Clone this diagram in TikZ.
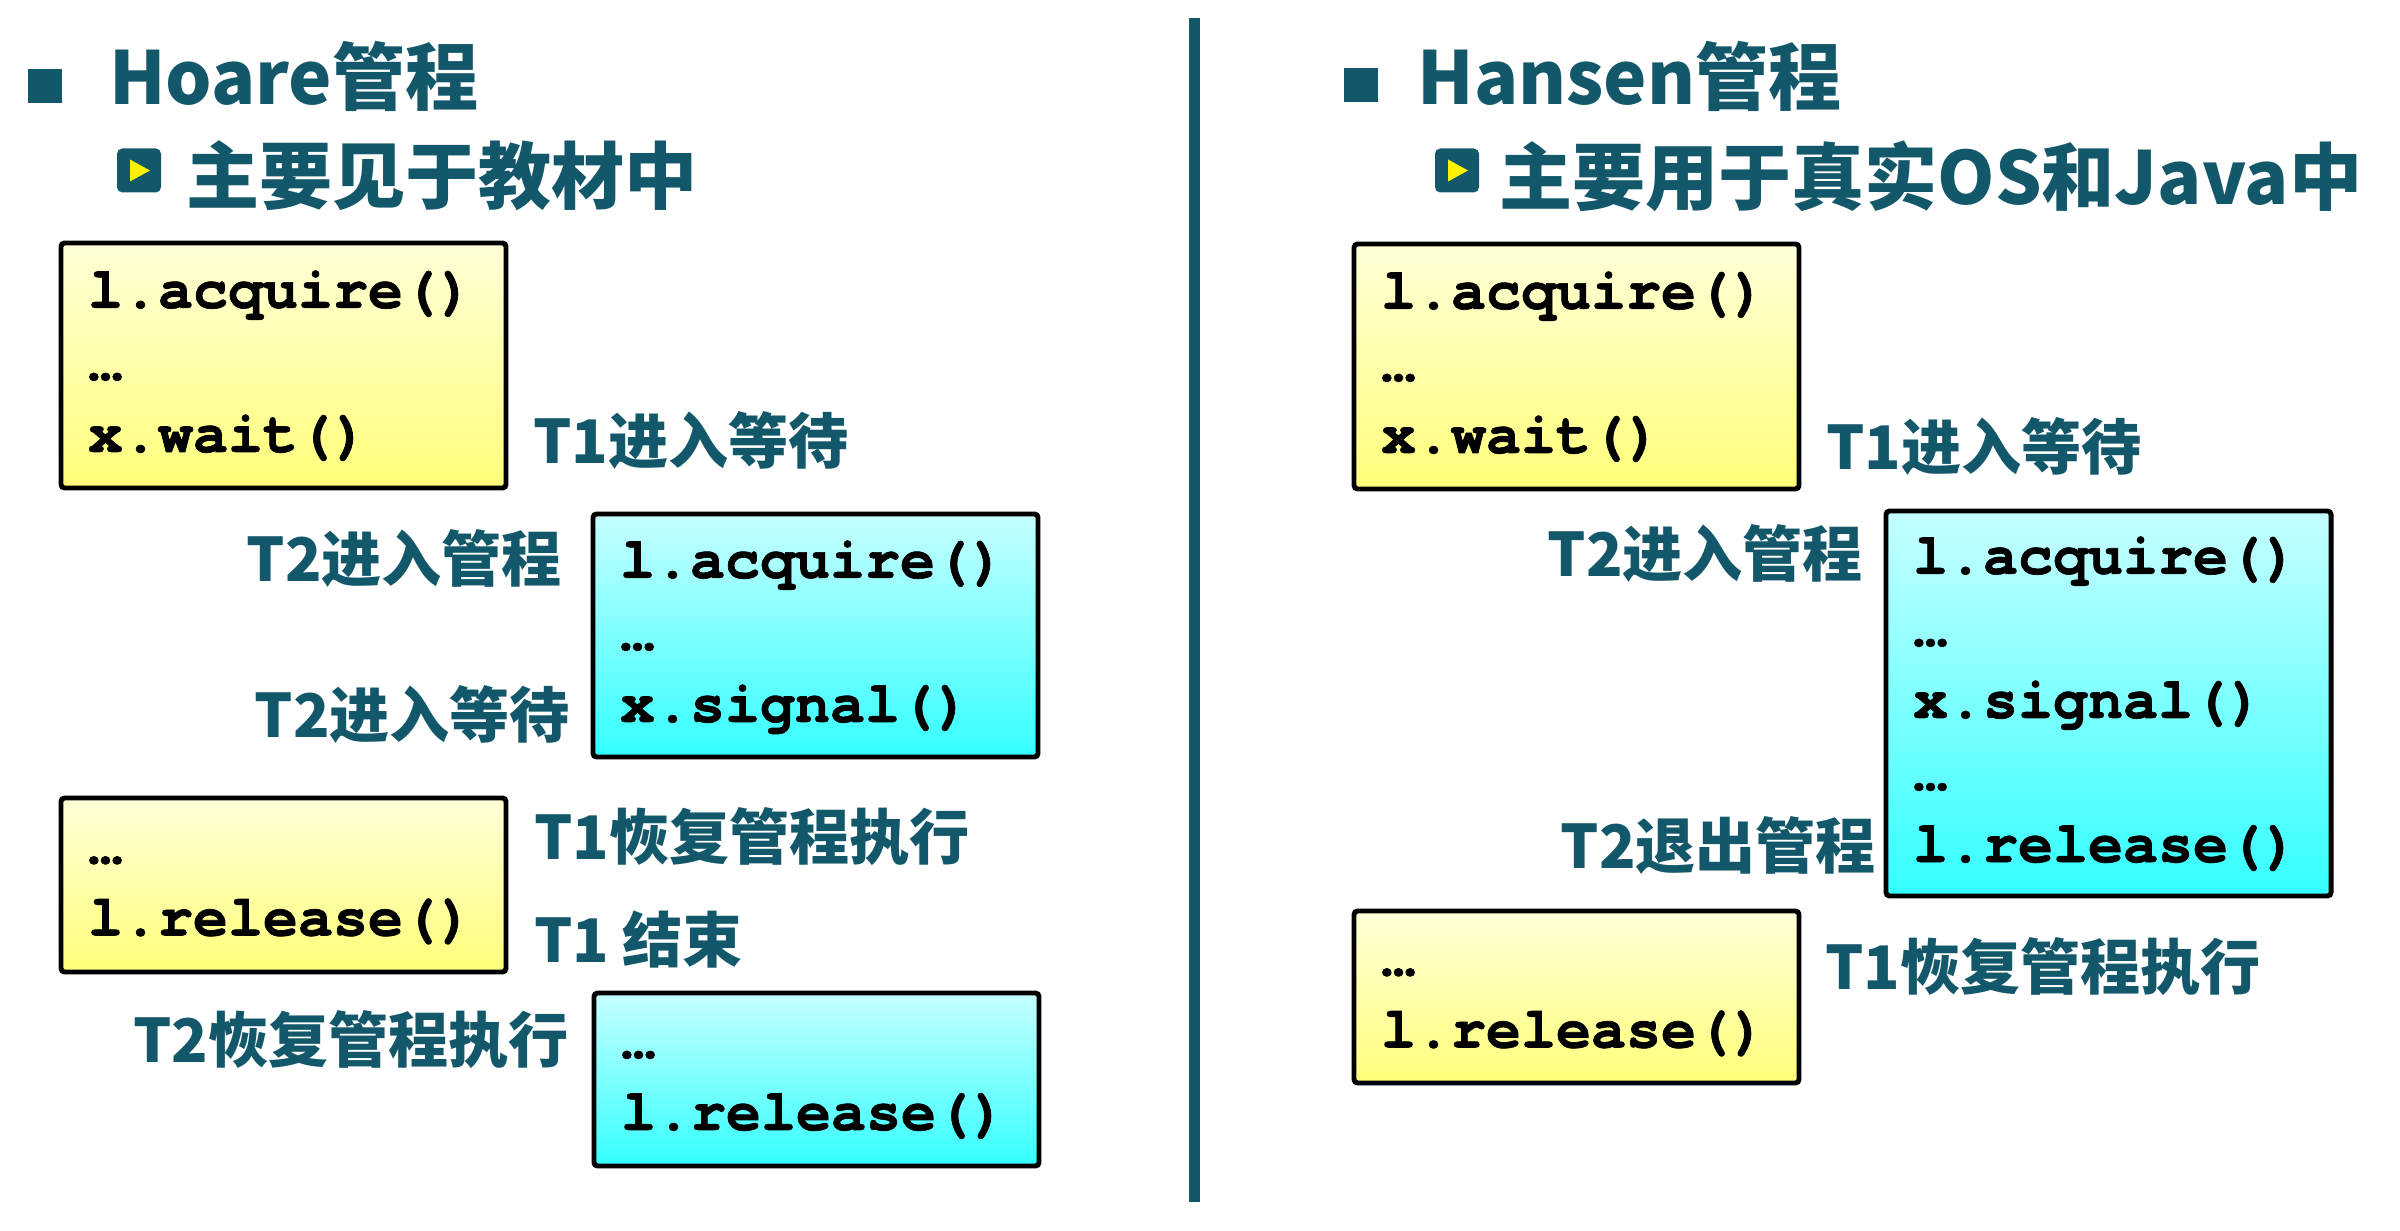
\documentclass[tikz,border=0pt]{standalone}
\usepackage{fontspec}
\newfontfamily\hei{Noto Sans CJK SC}
\newfontfamily\codefont{texgyrecursor}[Extension=.otf, UprightFont=*-regular,
  BoldFont=*-bold, BoldFeatures={FakeBold=1.2}]
\usetikzlibrary{positioning,shadings}
\definecolor{headink}{RGB}{19,88,106}
\definecolor{ytop}{RGB}{255,255,216}
\definecolor{ybot}{RGB}{255,255,122}
\definecolor{ctop}{RGB}{198,255,255}
\definecolor{cbot}{RGB}{52,255,255}
\definecolor{tri}{RGB}{255,242,0}
\tikzset{
  codebox/.style={draw=black, line width=1.4pt, rounded corners=1pt, align=left,
                  text width=3.91cm, inner xsep=0.27cm, inner ysep=0pt, outer sep=0pt,
                  text=black, font=\codefont\bfseries\fontsize{16.6}{20.5}\selectfont},
  ybox/.style={codebox, top color=ytop, bottom color=ybot},
  cbox/.style={codebox, top color=ctop, bottom color=cbot},
  lbl/.style={font=\hei\bfseries\fontsize{17.1}{20}\selectfont, text=headink,
              inner sep=0pt, outer sep=0pt},
  head/.style={font=\hei\bfseries\fontsize{20.8}{24}\selectfont, text=headink,
               inner sep=0pt, outer sep=0pt},
  bigbul/.style={fill=headink, minimum size=0.34cm, inner sep=0pt, outer sep=0pt},
  subbul/.style={fill=headink, rounded corners=1.5pt, minimum size=0.44cm,
                 inner sep=0pt, outer sep=0pt},
}

\begin{document}
\begin{tikzpicture}
  \useasboundingbox (0,0) rectangle (24,12.3);
  \draw[headink, line width=0.11cm] (11.945,12.12) -- (11.945,0.28);

  \node[bigbul] (hbul) at (0.45,11.44) {};
  \node[head, right=0.47cm of hbul, yshift=0.095cm] (hoare) {Hoare管程};
  \node[subbul] (hsub) at (1.39,10.595) {};
  \fill[tri] ([xshift=-0.09cm,yshift=0.11cm]hsub.center) -- ++(0,-0.22) -- ++(0.2,0.11) -- cycle;
  \node[head, right=0.25cm of hsub, yshift=-0.055cm] (hoaresub) {主要见于教材中};

  \node[ybox, minimum height=2.45cm, anchor=north west] (a) at (0.61,9.87)
    {\strut l.acquire()\\\strut …\\\strut x.wait()};
  \node[cbox, minimum height=2.43cm, below right=0.26cm and 0.87cm of a] (b)
    {\strut l.acquire()\\\strut …\\\strut x.signal()};
  \node[ybox, minimum height=1.74cm, below=3.1cm of a] (c)
    {\strut …\\\strut l.release()};
  \node[cbox, minimum height=1.73cm, below right=0.21cm and 0.88cm of c] (d)
    {\strut …\\\strut l.release()};

  \node[lbl, right=0.27cm of a.east, yshift=-0.755cm] (t1wait) {T1进入等待};
  \node[lbl, left=0.31cm of b.north west, yshift=-0.45cm] (t2enter) {T2进入管程};
  \node[lbl, left=0.23cm of b.south west, yshift=0.42cm] (t2wait) {T2进入等待};
  \node[lbl, right=0.28cm of c.north east, yshift=-0.39cm] (t1back) {T1恢复管程执行};
  \node[lbl, right=0.28cm of c.south east, yshift=0.32cm] (t1end) {T1 结束};
  \node[lbl, left=0.25cm of d.north west, yshift=-0.47cm] (t2back) {T2恢复管程执行};

  \node[bigbul] (nbul) at (13.61,11.445) {};
  \node[head, right=0.395cm of nbul, yshift=0.09cm] (hansen) {Hansen管程};
  \node[subbul] (nsub) at (14.57,10.595) {};
  \fill[tri] ([xshift=-0.09cm,yshift=0.11cm]nsub.center) -- ++(0,-0.22) -- ++(0.2,0.11) -- cycle;
  \node[head, right=0.2cm of nsub, yshift=-0.055cm] (hansensub) {主要用于真实OS和Java中};

  \node[ybox, minimum height=2.45cm, anchor=north west] (e) at (13.54,9.86)
    {\strut l.acquire()\\\strut …\\\strut x.wait()};
  \node[cbox, minimum height=3.85cm, below right=0.22cm and 0.87cm of e] (f)
    {\strut l.acquire()\\\strut …\\\strut x.signal()\\\strut …\\\strut l.release()};
  \node[ybox, minimum height=1.72cm, below=4.22cm of e] (g)
    {\strut …\\\strut l.release()};

  \node[lbl, right=0.27cm of e.south east, yshift=0.42cm] (n1wait) {T1进入等待};
  \node[lbl, left=0.23cm of f.north west, yshift=-0.43cm] (n2enter) {T2进入管程};
  \node[lbl, left=0.10cm of f.south west, yshift=0.51cm] (n2exit) {T2退出管程};
  \node[lbl, right=0.26cm of g.north east, yshift=-0.56cm] (n1back) {T1恢复管程执行};
\end{tikzpicture}
\end{document}
